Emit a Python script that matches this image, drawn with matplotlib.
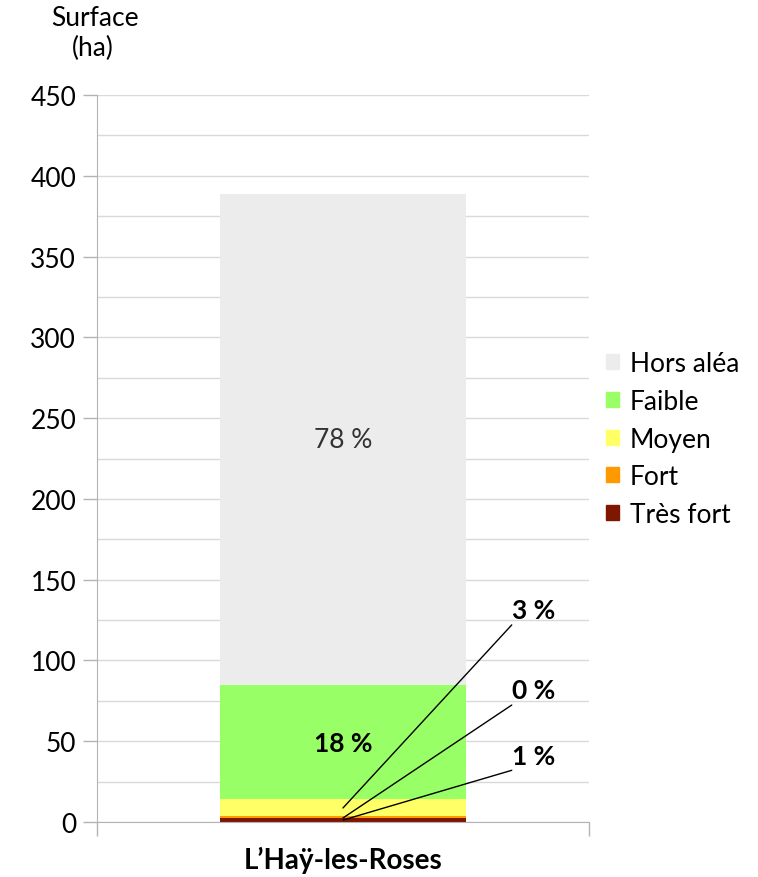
import matplotlib
matplotlib.use("Agg")
import matplotlib.pyplot as plt
from matplotlib.patches import Patch

plt.rcParams['font.family'] = ['Lato', 'DejaVu Sans']

commune = "L\u2019Ha\u00ff-les-Roses"
categories = ["Tr\u00e8s fort", "Fort", "Moyen", "Faible", "Hors al\u00e9a"]
values = [2.5, 1.0, 11.0, 70.0, 304.5]
colors = ["#7f1600", "#ff9900", "#ffff66", "#99ff66", "#ececec"]
pct_labels = ["1 %", "0 %", "3 %", "18 %", "78 %"]
yticks = [0, 50, 100, 150, 200, 250, 300, 350, 400, 450]

fig = plt.figure(figsize=(7.58, 8.78), dpi=100)
ax = fig.add_axes([97/758, 1-823/878, (589-97)/758, (823-96)/878])

x = 0
bottom = 0
for v, c, lab in zip(values, colors, categories):
    ax.bar(x, v, bottom=bottom, width=0.5, color=c, label=lab, zorder=2)
    bottom += v

ax.set_xlim(-0.5, 0.5)
ax.set_ylim(0, 450)
ax.set_yticks(yticks)
ax.set_yticks(range(0, 451, 25), minor=True)
ax.tick_params(axis='y', which='major', length=10, width=1, color='#b3b3b3', labelsize=19, pad=5)
ax.tick_params(axis='y', which='minor', length=0)
ax.set_xticks([-0.5, 0.5])
ax.set_xticklabels(["", ""])
ax.tick_params(axis='x', length=10, width=1, color='#b3b3b3')
ax.grid(axis='y', which='both', color='#d9d9d9', linewidth=1, zorder=0)
ax.set_axisbelow(True)
for s in ['top', 'right']:
    ax.spines[s].set_visible(False)
for s in ['left', 'bottom']:
    ax.spines[s].set_color('#b3b3b3')

fig.text(343/758, 1-860/878, commune, ha='center', va='center',
         fontsize=20, fontweight='bold')

fig.text(95/758, 1-18/878, "Surface", ha='center', va='center', fontsize=19)
fig.text(93/758, 1-48/878, "(ha)", ha='center', va='center', fontsize=19)

# inner labels
ax.text(0, 237, pct_labels[4], ha='center', va='center', fontsize=19, color='#333333')
ax.text(0, 49, pct_labels[3], ha='center', va='center', fontsize=19, fontweight='bold')

# leader labels (Moyen, Fort, Tres fort)
lab_y = {2: 131, 1: 82, 0: 41}
line_end_y = {2: 122, 1: 72.4, 0: 32}
line_start_y = {2: 8.7, 1: 2.5, 0: 1.2}
for i in [2, 1, 0]:
    ax.annotate("", xy=(0, line_start_y[i]), xytext=(0.343, line_end_y[i]),
                arrowprops=dict(arrowstyle='-', color='black', lw=1, shrinkA=0, shrinkB=0), zorder=5)
    ax.text(0.388, lab_y[i], pct_labels[i], ha='center', va='center', fontsize=19, fontweight='bold')

handles = [Patch(color=colors[i]) for i in [4, 3, 2, 1, 0]]
labels = [categories[i] for i in [4, 3, 2, 1, 0]]
fig.legend(handles, labels, loc='upper left', bbox_to_anchor=(601/758, 1-347/878),
           frameon=False, fontsize=19, handlelength=0.5, handleheight=0.5,
           handletextpad=0.38, labelspacing=0.48, borderpad=0.2, borderaxespad=0)

fig.savefig("out.png", dpi=100)
